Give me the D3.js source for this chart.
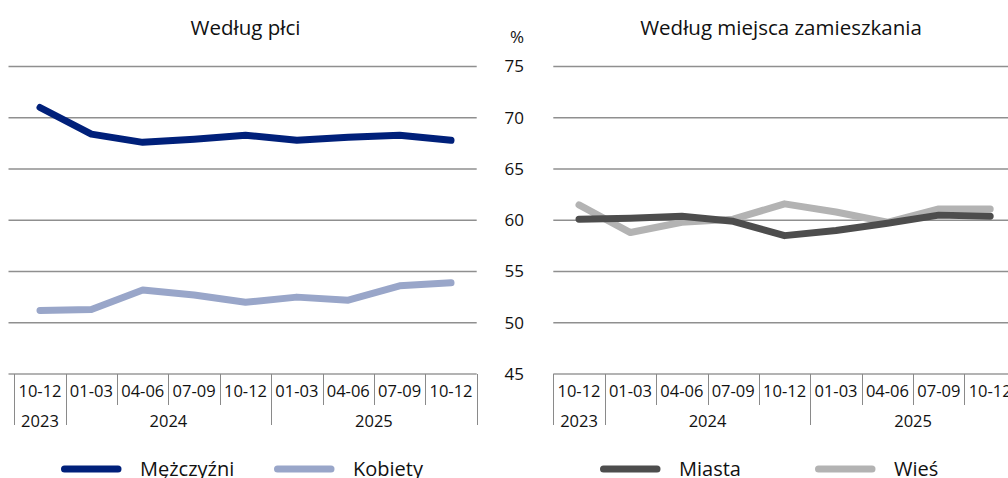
<!DOCTYPE html>
<html>
<head>
<meta charset="utf-8">
<script src="https://cdn.jsdelivr.net/npm/d3@7"></script>
<style>
  html, body { margin: 0; padding: 0; background: #fff; }
  svg { display: block; font-family: "Open Sans", sans-serif; }
</style>
</head>
<body>
<div id="chart"></div>
<script>
const quarters = ["10-12", "01-03", "04-06", "07-09", "10-12", "01-03", "04-06", "07-09", "10-12"];
const years = [
    {label: "2023", from: 0, to: 1},
    {label: "2024", from: 1, to: 5},
    {label: "2025", from: 5, to: 9}
];
const yTicks = [45, 50, 55, 60, 65, 70, 75];

const mezczyzni = [71.0, 68.4, 67.6, 67.9, 68.3, 67.8, 68.1, 68.3, 67.8];
const kobiety = [51.2, 51.3, 53.2, 52.7, 52.0, 52.5, 52.2, 53.6, 53.9];
const miasta = [60.1, 60.2, 60.4, 59.9, 58.5, 59.0, 59.7, 60.5, 60.4];
const wies = [61.5, 58.8, 59.8, 60.1, 61.6, 60.8, 59.8, 61.1, 61.1];

const width = 1008, height = 478;

const svg = d3.select("#chart").append("svg")
    .attr("width", width)
    .attr("height", height);

const y = d3.scaleLinear().domain([45, 75]).range([374, 66.5]);

const panels = [
    {
        title: "Według płci",
        titleX: 245.5,
        gridX: [8.5, 476.7],
        range: [14.3, 476.7],
        series: [
            {name: "Mężczyźni", values: mezczyzni, color: "#00207a"},
            {name: "Kobiety", values: kobiety, color: "#99a6c9"}
        ],
        legendX: [61, 274]
    },
    {
        title: "Według miejsca zamieszkania",
        titleX: 781,
        gridX: [553.3, 1008],
        range: [553.3, 553.3 + 9 * 51.4],
        series: [
            {name: "Miasta", values: miasta, color: "#4d4d4d"},
            {name: "Wieś", values: wies, color: "#b3b3b3"}
        ],
        legendX: [600, 815]
    }
];

panels.forEach(p => {
    const x = d3.scaleBand().domain(d3.range(quarters.length)).range(p.range);
    const g = svg.append("g");

    // title
    g.append("text")
        .attr("x", p.titleX)
        .attr("y", 35)
        .attr("text-anchor", "middle")
        .attr("font-size", 20.5)
        .attr("fill", "#111")
        .text(p.title);

    // grid lines
    g.append("g")
        .selectAll("line")
        .data(yTicks.filter(d => d > 45))
        .join("line")
        .attr("x1", p.gridX[0])
        .attr("x2", p.gridX[1])
        .attr("y1", d => y(d))
        .attr("y2", d => y(d))
        .attr("stroke", "#8f8f8f")
        .attr("stroke-width", 1.4);

    // x axis base line
    g.append("line")
        .attr("x1", p.gridX[0])
        .attr("x2", p.gridX[1])
        .attr("y1", y(45))
        .attr("y2", y(45))
        .attr("stroke", "#9a9a9a")
        .attr("stroke-width", 1.6);

    // tick separators
    const bounds = d3.range(quarters.length + 1);
    const yearBounds = new Set(years.flatMap(d => [d.from, d.to]));
    g.append("g")
        .selectAll("line")
        .data(bounds)
        .join("line")
        .attr("x1", d => Math.round(p.range[0] + d * x.step()) + 0.5)
        .attr("x2", d => Math.round(p.range[0] + d * x.step()) + 0.5)
        .attr("y1", y(45))
        .attr("y2", d => yearBounds.has(d) ? 425 : 405)
        .attr("stroke", "#8a8a8a")
        .attr("stroke-width", 1);

    // quarter labels
    g.append("g")
        .selectAll("text")
        .data(quarters)
        .join("text")
        .attr("x", (d, i) => x(i) + x.bandwidth() / 2)
        .attr("y", 397)
        .attr("text-anchor", "middle")
        .attr("font-size", 16.5)
        .attr("fill", "#111")
        .text(d => d);

    // year labels
    g.append("g")
        .selectAll("text")
        .data(years)
        .join("text")
        .attr("x", d => p.range[0] + (d.from + d.to) / 2 * x.step())
        .attr("y", 427)
        .attr("text-anchor", "middle")
        .attr("font-size", 16.5)
        .attr("fill", "#111")
        .text(d => d.label);

    // lines
    const line = d3.line()
        .x((d, i) => x(i) + x.bandwidth() / 2)
        .y(d => y(d));

    g.append("g")
        .selectAll("path")
        .data(p.series.slice().reverse())
        .join("path")
        .attr("d", d => line(d.values))
        .attr("fill", "none")
        .attr("stroke", d => d.color)
        .attr("stroke-width", 7)
        .attr("stroke-linejoin", "round")
        .attr("stroke-linecap", "round");

    // legend
    const leg = g.append("g")
        .selectAll("g")
        .data(p.series)
        .join("g")
        .attr("transform", (d, i) => `translate(${p.legendX[i]},469)`);

    leg.append("line")
        .attr("x1", 3.5)
        .attr("x2", 57)
        .attr("stroke", d => d.color)
        .attr("stroke-width", 7)
        .attr("stroke-linecap", "round");

    leg.append("text")
        .attr("x", 79)
        .attr("y", 7)
        .attr("font-size", 20)
        .attr("fill", "#111")
        .text(d => d.name);
});

// y axis labels between panels
svg.append("g")
    .selectAll("text")
    .data(yTicks)
    .join("text")
    .attr("x", 524)
    .attr("y", d => y(d))
    .attr("dy", "0.35em")
    .attr("text-anchor", "end")
    .attr("font-size", 17)
    .attr("fill", "#111")
    .text(d => d);

svg.append("text")
    .attr("x", 524)
    .attr("y", 43)
    .attr("text-anchor", "end")
    .attr("font-size", 17)
    .attr("fill", "#111")
    .text("%");
</script>
</body>
</html>
